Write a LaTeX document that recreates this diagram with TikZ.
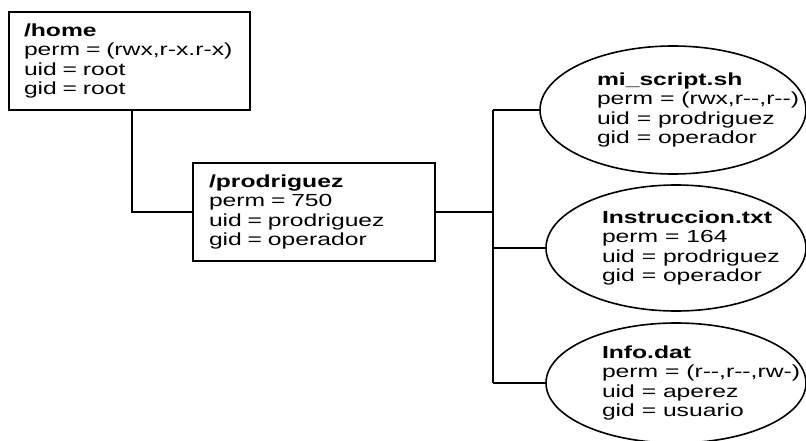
\documentclass[tikz,border=0pt]{standalone}
\usepackage{fontspec}
\setmainfont{Liberation Sans}[FakeStretch=1.41]
\usetikzlibrary{shapes.geometric}

% una ficha: nombre, permisos, usuario y grupo
\newcommand{\ficha}[4]{\textbf{#1}\\\mbox{perm = #2}\\\mbox{uid = #3}\\\mbox{gid = #4}}

\tikzset{
  caja/.style={draw, minimum height=98pt, inner xsep=16pt, inner ysep=0pt,
    text width=210pt, align=left},
  archivo/.style={draw, ellipse, inner sep=0pt},
  texto/.style={anchor=west, inner sep=0pt, align=left},
}

\begin{document}
\begin{tikzpicture}[x=1pt, y=-1pt, line width=1.6pt,
    font=\fontsize{17.5}{19.5}\selectfont]
  \clip (0,0) rectangle (806,441);

  % directorios
  \node[caja, text width=211pt, inner xsep=15pt] (home) at (129.5,61)
    {\ficha{/home}{(rwx,r-x.r-x)}{root}{root}};
  \node[caja] (prod) at (314,212)
    {\ficha{/prodriguez}{750}{prodriguez}{operador}};

  % archivos
  \node[archivo, minimum width=266pt, minimum height=128pt] (mi) at (673,110) {};
  \node[archivo, minimum width=260pt, minimum height=126pt] (ins) at (676,248) {};
  \node[archivo, minimum width=260pt, minimum height=120pt] (inf) at (676,383) {};
  \node[texto] (mi-txt) at ([xshift=57pt]mi.west)
    {\ficha{mi\_script.sh}{(rwx,r-{}-,r-{}-)}{prodriguez}{operador}};
  \node[texto] (ins-txt) at ([xshift=56pt]ins.west)
    {\ficha{Instruccion.txt}{164}{prodriguez}{operador}};
  \node[texto] (inf-txt) at ([xshift=56pt]inf.west)
    {\ficha{Info.dat}{(r-{}-,r-{}-,rw-)}{aperez}{usuario}};

  % conexiones
  \draw ([xshift=2.5pt]home.south) |- (prod.west);
  \coordinate (tronco) at (493,212);
  \draw (prod.east) -- (tronco);
  \draw (tronco |- mi.west) -- (tronco |- inf.west);
  \foreach \f in {mi,ins,inf}
    \draw (tronco |- \f.west) -- (\f.west);
\end{tikzpicture}
\end{document}
